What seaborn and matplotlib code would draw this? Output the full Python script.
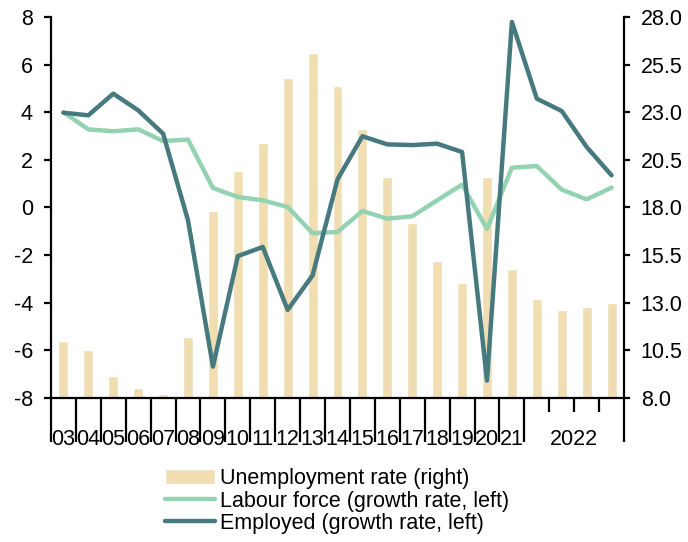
import numpy as np
import pandas as pd
import matplotlib
matplotlib.use('Agg')
import matplotlib.pyplot as plt
import seaborn as sns

# data
categories = ['03', '04', '05', '06', '07', '08', '09', '10', '11', '12', '13',
              '14', '15', '16', '17', '18', '19', '20', '21',
              '22Q1', '22Q2', '22Q3', '22Q4']
tick_labels = ['03', '04', '05', '06', '07', '08', '09', '10', '11', '12', '13',
               '14', '15', '16', '17', '18', '19', '20', '21', '2022']
unemployment = [11.0, 10.5, 9.15, 8.5, 8.2, 11.2, 17.8, 19.9, 21.4, 24.8, 26.1,
                24.4, 22.1, 19.6, 17.2, 15.2, 14.05, 19.6, 14.75,
                13.2, 12.6, 12.75, 13.0]
labour_force = [4.0, 3.28, 3.2, 3.28, 2.79, 2.85, 0.82, 0.44, 0.3, 0.02, -1.08,
                -1.03, -0.15, -0.47, -0.37, 0.3, 0.96, -0.9, 1.67,
                1.74, 0.75, 0.34, 0.83]
employed = [3.98, 3.87, 4.78, 4.08, 3.1, -0.54, -6.68, -2.04, -1.66, -4.3, -2.85,
            1.18, 2.99, 2.65, 2.62, 2.68, 2.33, -7.27, 7.79,
            4.57, 4.05, 2.54, 1.35]

bar_color = '#F0DDB2'
labour_color = '#94D3B2'
employed_color = '#467A7E'

sns.set_style('white')
plt.rcParams['font.family'] = ['Liberation Sans', 'DejaVu Sans']
plt.rcParams['axes.unicode_minus'] = False
plt.rcParams['font.size'] = 15.5
for k in ('text.color', 'axes.labelcolor', 'xtick.color', 'ytick.color', 'axes.edgecolor'):
    plt.rcParams[k] = 'black'

df = pd.DataFrame({'cat': categories, 'unemp': unemployment,
                   'labour': labour_force, 'employed': employed})
df['pos'] = np.arange(len(df))

fig = plt.figure(figsize=(6.88, 5.42), dpi=100)
ax = fig.add_axes([0.0741, 0.2657, 0.8329, 0.703])
axr = ax.twinx()

sns.barplot(data=df, x='cat', y='unemp', ax=axr, color=bar_color,
            saturation=1, width=0.4, label='Unemployment rate (right)')
sns.lineplot(data=df, x='pos', y='labour', ax=ax, color=labour_color,
             linewidth=3.2, label='Labour force (growth rate, left)')
sns.lineplot(data=df, x='pos', y='employed', ax=ax, color=employed_color,
             linewidth=3.2, label='Employed (growth rate, left)')
for ln in ax.get_lines():
    ln.set_solid_capstyle('round')
    ln.set_solid_joinstyle('round')

for a in (ax, axr):
    if a.get_legend() is not None:
        a.get_legend().remove()

ax.set_zorder(axr.get_zorder() + 1)
ax.patch.set_visible(False)

n = len(categories)
ax.set_xlim(-0.5, n - 0.5)
axr.set_xlim(-0.5, n - 0.5)
ax.set_ylim(-8, 8)
axr.set_ylim(8, 28)
ax.set_yticks(np.arange(-8, 9, 2))
axr.set_yticks(np.arange(8, 28.1, 2.5))
axr.set_yticklabels([f'{v:.1f}' for v in np.arange(8, 28.1, 2.5)])
ax.set_xlabel('')
ax.set_ylabel('')
axr.set_xlabel('')
axr.set_ylabel('')

# category labels at bar centres (2022 spans its four quarters)
label_pos = list(range(19)) + [20.5]
ax.set_xticks(label_pos)
ax.set_xticklabels(tick_labels)
ax.tick_params(axis='x', length=0, pad=22)
axr.tick_params(axis='x', length=0, labelbottom=False)

# boundary ticks: long between years, short between quarters
sec = ax.secondary_xaxis('bottom')
sec.set_xticks([i - 0.5 for i in range(20)] + [n - 0.5])
sec.set_xticks([19.5, 20.5, 21.5], minor=True)
sec.set_xticklabels([])
sec.tick_params(axis='x', which='major', length=32, width=1.6, direction='out', color='black')
sec.tick_params(axis='x', which='minor', length=10, width=1.6, direction='out', color='black')
sec.spines['bottom'].set_visible(False)

ax.tick_params(axis='y', length=5, width=1.6, direction='out', pad=8)
axr.tick_params(axis='y', length=4, width=1.6, direction='out', pad=8)

for a in (ax, axr):
    a.spines['top'].set_visible(False)
    for s in ('left', 'right', 'bottom'):
        a.spines[s].set_linewidth(1.6)
        a.spines[s].set_color('black')
ax.spines['right'].set_visible(False)
axr.spines['left'].set_visible(False)
axr.spines['bottom'].set_visible(False)

h1, l1 = axr.get_legend_handles_labels()
h2, l2 = ax.get_legend_handles_labels()
fig.legend(h1 + h2, l1 + l2, loc='center', bbox_to_anchor=(0.49, 0.0756),
           frameon=False, handlelength=2.3, handletextpad=0.25,
           labelspacing=0.05, fontsize=15.5)

fig.savefig('out.png', dpi=100)
